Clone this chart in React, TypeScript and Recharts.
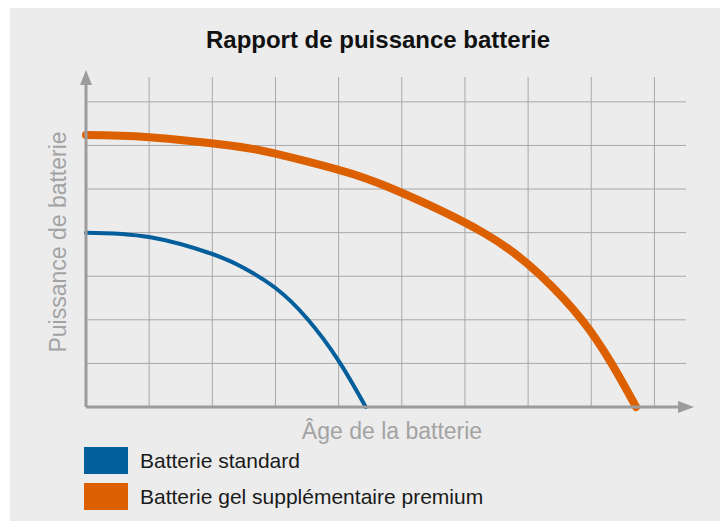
import {
  LineChart,
  Line,
  XAxis,
  YAxis,
  CartesianGrid,
  ReferenceDot,
} from "recharts";

const ageTicks = [0, 1, 2, 3, 4, 5, 6, 7, 8, 9];
const powerTicks = [0, 1, 2, 3, 4, 5, 6, 7];

const standardAge = [0, 1, 2, 2.5, 3, 3.5, 4, 4.43];
const standardPower = [4.0, 3.9, 3.51, 3.19, 2.73, 2.03, 1.06, 0];

const premiumAge = [0, 1, 2.28, 3, 4, 4.86, 6.29, 7.21, 7.85, 8.32, 8.71];
const premiumPower = [6.24, 6.19, 6.0, 5.81, 5.44, 5.0, 4.0, 3.0, 2.0, 1.0, 0];

const seriesNames = ["Batterie standard", "Batterie gel supplémentaire premium"];
const seriesColors = ["#035e9c", "#dc6000"];

const standardData = standardAge.map((age, i) => ({ age, power: standardPower[i] }));
const premiumData = premiumAge.map((age, i) => ({ age, power: premiumPower[i] }));

const AXIS = "#9c9c9c";
const FONT = "'Liberation Sans', Arial, sans-serif";

const ArrowRight = (props: any) => {
  const { cx, cy } = props;
  return <polygon points={`${cx - 8},${cy - 6} ${cx + 8},${cy} ${cx - 8},${cy + 6}`} fill={AXIS} />;
};

const ArrowUp = (props: any) => {
  const { cx, cy } = props;
  return <polygon points={`${cx - 6},${cy + 8} ${cx},${cy - 7} ${cx + 6},${cy + 8}`} fill={AXIS} />;
};

const NoTick = () => <g />;

export default function App() {
  return (
    <div
      style={{
        position: "relative",
        width: 718,
        height: 513,
        marginLeft: 2,
        background: "#ececec",
        fontFamily: FONT,
      }}
    >
      <div
        style={{
          position: "absolute",
          top: 20,
          left: 18,
          right: 0,
          textAlign: "center",
          fontSize: 24,
          lineHeight: "24px",
          fontWeight: 700,
          color: "#111",
        }}
      >
        Rapport de puissance batterie
      </div>
      <LineChart
        width={718}
        height={513}
        margin={{ top: 69, right: 42, left: 20, bottom: 67 }}
      >
        <CartesianGrid stroke="#a8a8a8" strokeWidth={1} syncWithTicks />
        <XAxis
          type="number"
          dataKey="age"
          domain={[0, 9.5]}
          ticks={ageTicks}
          tick={NoTick}
          tickLine={false}
          height={47}
          axisLine={{ stroke: AXIS, strokeWidth: 3 }}
          label={{
            value: "Âge de la batterie",
            position: "center",
            dx: 6,
            fill: "#a3a3a3",
            fontSize: 23,
            fontFamily: FONT,
          }}
        />
        <YAxis
          type="number"
          domain={[0, 7.57]}
          ticks={powerTicks}
          tick={NoTick}
          tickLine={false}
          width={56}
          axisLine={{ stroke: AXIS, strokeWidth: 3 }}
          label={{
            value: "Puissance de batterie",
            position: "center",
            angle: -90,
            fill: "#a3a3a3",
            fontSize: 23,
            fontFamily: FONT,
          }}
        />
        <Line
          data={standardData}
          dataKey="power"
          type="natural"
          stroke={seriesColors[0]}
          strokeWidth={4}
          strokeLinecap="round"
          dot={false}
          activeDot={false}
          isAnimationActive={false}
          name={seriesNames[0]}
        />
        <Line
          data={premiumData}
          dataKey="power"
          type="natural"
          stroke={seriesColors[1]}
          strokeWidth={8}
          strokeLinecap="round"
          dot={false}
          activeDot={false}
          isAnimationActive={false}
          name={seriesNames[1]}
        />
        <ReferenceDot x={9.5} y={0} ifOverflow="visible" shape={ArrowRight} />
        <ReferenceDot x={0} y={7.57} ifOverflow="visible" shape={ArrowUp} />
      </LineChart>
      <div style={{ position: "absolute", left: 74, top: 439 }}>
        {seriesNames.map((name, i) => (
          <div
            key={name}
            style={{ display: "flex", alignItems: "center", height: 27, marginBottom: 9 }}
          >
            <div style={{ width: 44, height: 27, background: seriesColors[i] }} />
            <span style={{ marginLeft: 12, fontSize: 21, lineHeight: "27px", color: "#1a1a1a" }}>
              {name}
            </span>
          </div>
        ))}
      </div>
    </div>
  );
}
